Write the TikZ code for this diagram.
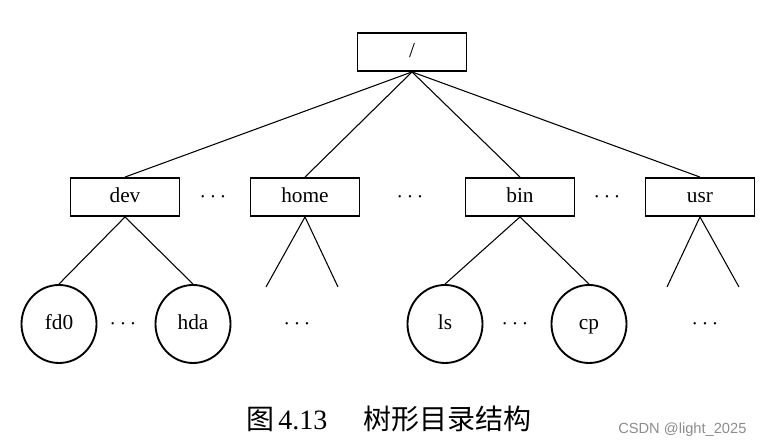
\documentclass[tikz,border=0pt]{standalone}
\usepackage{fontspec}
\setmainfont{Liberation Serif}
\newfontfamily\cjk{Noto Sans CJK SC}
\newfontfamily\markfont{Liberation Sans}
\usetikzlibrary{positioning, shapes.geometric}
\tikzset{
	label font/.style= {
		font=\fontsize{16}{18}\selectfont,
		text height=1.8ex,
		text depth=0pt
	},
	dir/.style= {
		rectangle,
		draw,
		line width=1.4pt,
		minimum width=81.75pt,
		minimum height=28.5pt,
		inner sep=0,
		label font
	},
	file/.style= {
		ellipse,
		draw,
		line width=1.4pt,
		minimum width=56.25pt,
		minimum height=58.5pt,
		inner sep=0,
		label font
	},
	more/.style= {
		inner sep=0,
		label font
	},
	branch/.style= {
		line width=0.8pt
	},
}

\begin{document}
\begin{tikzpicture}[x=0.75pt, y=-0.75pt]
	\useasboundingbox (0,0) rectangle (769,445);
	
	\node (root)[dir] at (412,52) {/};
	
	\foreach \name/\x in {dev/125, home/305, bin/520, usr/700}
	{
		\node (\name)[dir] at (\x,197) {\name};
		\draw[branch] (root.south) to (\name.north);
	}
	
	\foreach \name/\x in {fd0/59, hda/193, ls/445, cp/589}
	{
		\node (\name)[file] at (\x,324) {\name};
	}
	\draw[branch] (dev.south) to (fd0.north);
	\draw[branch] (dev.south) to (hda.north);
	\draw[branch] (bin.south) to (ls.north);
	\draw[branch] (bin.south) to (cp.north);
	
	% open subtrees
	\coordinate (homeL) at (266,287);
	\coordinate (homeR) at (338,287);
	\coordinate (usrL) at (667,287);
	\coordinate (usrR) at (739,287);
	\draw[branch] (homeL) -- (home.south) -- (homeR);
	\draw[branch] (usrL) -- (usr.south) -- (usrR);
	
	\foreach[count=\i from 1] \x/\y in {213/197, 410/197, 607/197, 123/324, 297/324, 515/324, 705/324}
	{
		\node (dots\i)[more] at (\x,\y) {$\cdots$};
	}
	
	\node (caption)[anchor=west, inner sep=0, font=\fontsize{21}{25}\selectfont] at (246,419)
		{{\cjk 图}\hspace{3pt}4.13\hspace{27pt}{\cjk 树形目录结构}};
	\node (mark)[anchor=west, inner sep=0, text=black!45, font=\markfont\fontsize{11}{13}\selectfont] at (618,430)
		{CSDN @light\_2025};
	
\end{tikzpicture}
\end{document}
